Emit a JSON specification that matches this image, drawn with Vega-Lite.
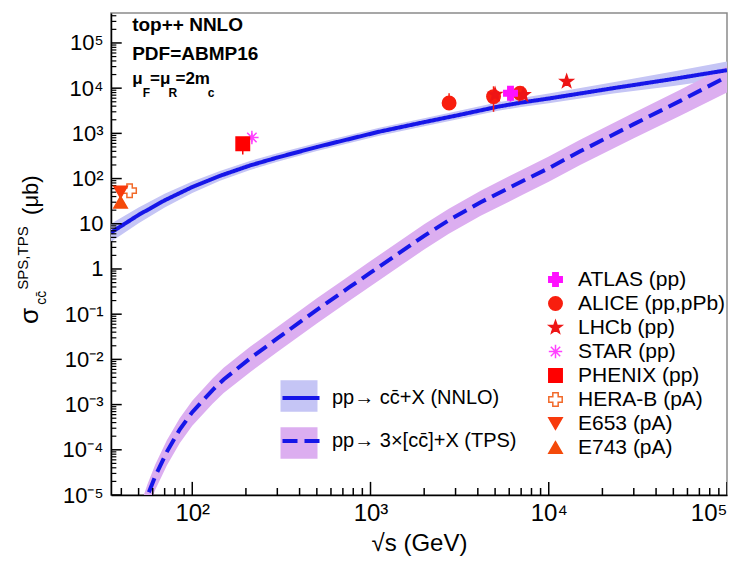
{
  "$schema": "https://vega.github.io/schema/vega-lite/v6.json",
  "width": 616,
  "height": 482,
  "autosize": {"type": "none"},
  "padding": {"left": 111, "top": 13, "right": 21, "bottom": 67},
  "config": {
    "font": "Liberation Sans",
    "view": {"stroke": "#8a8a8a", "strokeWidth": 1.5},
    "axis": {"grid": false, "zindex": 1, "labelFont": "Liberation Sans", "titleFont": "Liberation Sans", "labelColor": "#000", "titleColor": "#000"},
    "legend": {"labelFont": "Liberation Sans", "padding": 0, "offset": 0, "labelLimit": 400}
  },
  "datasets": {
    "one": [{}],
    "xmajor": [{"v": 100}, {"v": 1000}, {"v": 10000}, {"v": 100000}],
    "xminor": [{"v": 40}, {"v": 50}, {"v": 60}, {"v": 70}, {"v": 80}, {"v": 90}, {"v": 200}, {"v": 300}, {"v": 400}, {"v": 500}, {"v": 600}, {"v": 700}, {"v": 800}, {"v": 900}, {"v": 2000}, {"v": 3000}, {"v": 4000}, {"v": 5000}, {"v": 6000}, {"v": 7000}, {"v": 8000}, {"v": 9000}, {"v": 20000}, {"v": 30000}, {"v": 40000}, {"v": 50000}, {"v": 60000}, {"v": 70000}, {"v": 80000}, {"v": 90000}],
    "ymajor": [{"v": 1e-5}, {"v": 1e-4}, {"v": 1e-3}, {"v": 1e-2}, {"v": 0.1}, {"v": 1}, {"v": 10}, {"v": 100}, {"v": 1000}, {"v": 10000}, {"v": 100000}],
    "yminor": [{"v": 2e-5}, {"v": 3e-5}, {"v": 4e-5}, {"v": 5e-5}, {"v": 6e-5}, {"v": 7e-5}, {"v": 8e-5}, {"v": 9e-5}, {"v": 2e-4}, {"v": 3e-4}, {"v": 4e-4}, {"v": 5e-4}, {"v": 6e-4}, {"v": 7e-4}, {"v": 8e-4}, {"v": 9e-4}, {"v": 2e-3}, {"v": 3e-3}, {"v": 4e-3}, {"v": 5e-3}, {"v": 6e-3}, {"v": 7e-3}, {"v": 8e-3}, {"v": 9e-3}, {"v": 0.02}, {"v": 0.03}, {"v": 0.04}, {"v": 0.05}, {"v": 0.06}, {"v": 0.07}, {"v": 0.08}, {"v": 0.09}, {"v": 0.2}, {"v": 0.3}, {"v": 0.4}, {"v": 0.5}, {"v": 0.6}, {"v": 0.7}, {"v": 0.8}, {"v": 0.9}, {"v": 2}, {"v": 3}, {"v": 4}, {"v": 5}, {"v": 6}, {"v": 7}, {"v": 8}, {"v": 9}, {"v": 20}, {"v": 30}, {"v": 40}, {"v": 50}, {"v": 60}, {"v": 70}, {"v": 80}, {"v": 90}, {"v": 200}, {"v": 300}, {"v": 400}, {"v": 500}, {"v": 600}, {"v": 700}, {"v": 800}, {"v": 900}, {"v": 2000}, {"v": 3000}, {"v": 4000}, {"v": 5000}, {"v": 6000}, {"v": 7000}, {"v": 8000}, {"v": 9000}, {"v": 20000}, {"v": 30000}, {"v": 40000}, {"v": 50000}, {"v": 60000}, {"v": 70000}, {"v": 80000}, {"v": 90000}, {"v": 200000}, {"v": 300000}, {"v": 400000}],
    "bands": [
      {"band": "NNLO band", "s": 35, "lo": 4.0, "hi": 10},
      {"band": "NNLO band", "s": 50, "lo": 10.3, "hi": 23},
      {"band": "NNLO band", "s": 70, "lo": 23, "hi": 46},
      {"band": "NNLO band", "s": 100, "lo": 48, "hi": 86},
      {"band": "NNLO band", "s": 143, "lo": 89, "hi": 148},
      {"band": "NNLO band", "s": 211, "lo": 155, "hi": 245},
      {"band": "NNLO band", "s": 300, "lo": 235, "hi": 362},
      {"band": "NNLO band", "s": 500, "lo": 405, "hi": 610},
      {"band": "NNLO band", "s": 1120, "lo": 890, "hi": 1330},
      {"band": "NNLO band", "s": 2000, "lo": 1440, "hi": 2170},
      {"band": "NNLO band", "s": 3000, "lo": 2000, "hi": 3030},
      {"band": "NNLO band", "s": 5200, "lo": 3150, "hi": 4850},
      {"band": "NNLO band", "s": 7000, "lo": 3850, "hi": 6050},
      {"band": "NNLO band", "s": 10000, "lo": 4650, "hi": 7600},
      {"band": "NNLO band", "s": 23000, "lo": 7600, "hi": 13500},
      {"band": "NNLO band", "s": 50000, "lo": 11200, "hi": 23500},
      {"band": "NNLO band", "s": 100000, "lo": 16500, "hi": 39000},
      {"band": "TPS band", "s": 48, "lo": 8e-7, "hi": 3.4e-6},
      {"band": "TPS band", "s": 52, "lo": 2e-6, "hi": 7.2e-6},
      {"band": "TPS band", "s": 56, "lo": 4.7e-6, "hi": 1.7e-5},
      {"band": "TPS band", "s": 62, "lo": 1.3e-5, "hi": 4.7e-5},
      {"band": "TPS band", "s": 72, "lo": 4.5e-5, "hi": 1.62e-4},
      {"band": "TPS band", "s": 85, "lo": 1.4e-4, "hi": 5e-4},
      {"band": "TPS band", "s": 100, "lo": 3.4e-4, "hi": 1.22e-3},
      {"band": "TPS band", "s": 130, "lo": 1.05e-3, "hi": 3.8e-3},
      {"band": "TPS band", "s": 150, "lo": 1.8e-3, "hi": 6.5e-3},
      {"band": "TPS band", "s": 211, "lo": 5.2e-3, "hi": 1.9e-2},
      {"band": "TPS band", "s": 300, "lo": 1.45e-2, "hi": 5.2e-2},
      {"band": "TPS band", "s": 500, "lo": 0.062, "hi": 0.225},
      {"band": "TPS band", "s": 765, "lo": 0.2, "hi": 0.72},
      {"band": "TPS band", "s": 1000, "lo": 0.415, "hi": 1.5},
      {"band": "TPS band", "s": 2000, "lo": 2.7, "hi": 9.7},
      {"band": "TPS band", "s": 2750, "lo": 6, "hi": 21.5},
      {"band": "TPS band", "s": 4150, "lo": 15, "hi": 54},
      {"band": "TPS band", "s": 7000, "lo": 42, "hi": 153},
      {"band": "TPS band", "s": 10000, "lo": 85, "hi": 306},
      {"band": "TPS band", "s": 15000, "lo": 200, "hi": 720},
      {"band": "TPS band", "s": 30000, "lo": 780, "hi": 2850},
      {"band": "TPS band", "s": 55000, "lo": 2500, "hi": 9400},
      {"band": "TPS band", "s": 100000, "lo": 8000, "hi": 31000}
    ],
    "curves": [
      {"model": "pp→ cc̄+X (NNLO)", "s": 35, "sigma": 6.4},
      {"model": "pp→ cc̄+X (NNLO)", "s": 50, "sigma": 15.7},
      {"model": "pp→ cc̄+X (NNLO)", "s": 70, "sigma": 33},
      {"model": "pp→ cc̄+X (NNLO)", "s": 100, "sigma": 65},
      {"model": "pp→ cc̄+X (NNLO)", "s": 143, "sigma": 115},
      {"model": "pp→ cc̄+X (NNLO)", "s": 211, "sigma": 195},
      {"model": "pp→ cc̄+X (NNLO)", "s": 300, "sigma": 292},
      {"model": "pp→ cc̄+X (NNLO)", "s": 500, "sigma": 499},
      {"model": "pp→ cc̄+X (NNLO)", "s": 1120, "sigma": 1090},
      {"model": "pp→ cc̄+X (NNLO)", "s": 2000, "sigma": 1770},
      {"model": "pp→ cc̄+X (NNLO)", "s": 3000, "sigma": 2460},
      {"model": "pp→ cc̄+X (NNLO)", "s": 5200, "sigma": 3900},
      {"model": "pp→ cc̄+X (NNLO)", "s": 7000, "sigma": 4800},
      {"model": "pp→ cc̄+X (NNLO)", "s": 10000, "sigma": 5900},
      {"model": "pp→ cc̄+X (NNLO)", "s": 23000, "sigma": 10000},
      {"model": "pp→ cc̄+X (NNLO)", "s": 50000, "sigma": 16000},
      {"model": "pp→ cc̄+X (NNLO)", "s": 100000, "sigma": 25000},
      {"model": "pp→ 3×[cc̄]+X (TPS)", "s": 52, "sigma": 4e-6},
      {"model": "pp→ 3×[cc̄]+X (TPS)", "s": 56, "sigma": 9.5e-6},
      {"model": "pp→ 3×[cc̄]+X (TPS)", "s": 62, "sigma": 2.6e-5},
      {"model": "pp→ 3×[cc̄]+X (TPS)", "s": 72, "sigma": 9e-5},
      {"model": "pp→ 3×[cc̄]+X (TPS)", "s": 85, "sigma": 2.8e-4},
      {"model": "pp→ 3×[cc̄]+X (TPS)", "s": 100, "sigma": 6.8e-4},
      {"model": "pp→ 3×[cc̄]+X (TPS)", "s": 130, "sigma": 2.1e-3},
      {"model": "pp→ 3×[cc̄]+X (TPS)", "s": 150, "sigma": 3.6e-3},
      {"model": "pp→ 3×[cc̄]+X (TPS)", "s": 211, "sigma": 1.05e-2},
      {"model": "pp→ 3×[cc̄]+X (TPS)", "s": 300, "sigma": 2.9e-2},
      {"model": "pp→ 3×[cc̄]+X (TPS)", "s": 500, "sigma": 0.125},
      {"model": "pp→ 3×[cc̄]+X (TPS)", "s": 765, "sigma": 0.4},
      {"model": "pp→ 3×[cc̄]+X (TPS)", "s": 1000, "sigma": 0.83},
      {"model": "pp→ 3×[cc̄]+X (TPS)", "s": 2000, "sigma": 5.4},
      {"model": "pp→ 3×[cc̄]+X (TPS)", "s": 2750, "sigma": 12},
      {"model": "pp→ 3×[cc̄]+X (TPS)", "s": 4150, "sigma": 30},
      {"model": "pp→ 3×[cc̄]+X (TPS)", "s": 7000, "sigma": 85},
      {"model": "pp→ 3×[cc̄]+X (TPS)", "s": 10000, "sigma": 170},
      {"model": "pp→ 3×[cc̄]+X (TPS)", "s": 15000, "sigma": 400},
      {"model": "pp→ 3×[cc̄]+X (TPS)", "s": 30000, "sigma": 1600},
      {"model": "pp→ 3×[cc̄]+X (TPS)", "s": 55000, "sigma": 5300},
      {"model": "pp→ 3×[cc̄]+X (TPS)", "s": 100000, "sigma": 18000}
    ],
    "points": [
      {"exp": "ALICE (pp,pPb)", "s": 2760, "sigma": 4700, "lo": 3300, "hi": 7700},
      {"exp": "ALICE (pp,pPb)", "s": 4900, "sigma": 6500, "lo": 3000, "hi": 11000},
      {"exp": "ALICE (pp,pPb)", "s": 6900, "sigma": 7700, "lo": 6000, "hi": 9500},
      {"exp": "LHCb (pp)", "s": 5000, "sigma": 7200, "lo": 6200, "hi": 8300},
      {"exp": "LHCb (pp)", "s": 7200, "sigma": 7100, "lo": 6200, "hi": 8000},
      {"exp": "LHCb (pp)", "s": 12600, "sigma": 14000, "lo": 12500, "hi": 15500},
      {"exp": "ATLAS (pp)", "s": 6100, "sigma": 7700, "lo": 5000, "hi": 10000},
      {"exp": "STAR (pp)", "s": 216, "sigma": 810, "lo": 640, "hi": 1000},
      {"exp": "PHENIX (pp)", "s": 192, "sigma": 590, "lo": 340, "hi": 700},
      {"exp": "HERA-B (pA)", "s": 44.5, "sigma": 54, "lo": 46, "hi": 62},
      {"exp": "E653 (pA)", "s": 39.6, "sigma": 50, "lo": 42, "hi": 60},
      {"exp": "E743 (pA)", "s": 39.6, "sigma": 30, "lo": 25, "hi": 36}
    ]
  },
  "resolve": {"axis": {"x": "independent", "y": "independent"}},
  "layer": [
    {
      "data": {"name": "bands"},
      "mark": {"type": "area", "clip": true},
      "encoding": {
        "x": {"field": "s", "type": "quantitative", "scale": {"type": "log", "domain": [35, 100000], "nice": false}, "axis": null},
        "y": {"field": "lo", "type": "quantitative", "scale": {"type": "log", "domain": [1e-5, 460000], "nice": false}, "axis": null},
        "y2": {"field": "hi"},
        "color": {"field": "band", "type": "nominal",
          "scale": {"domain": ["NNLO band", "TPS band"], "range": ["#c5c5f5", "#dcaef0"]},
          "legend": {"orient": "none", "legendX": 169, "legendY": 364, "title": null, "symbolType": "M-1,-0.85L1,-0.85L1,0.85L-1,0.85Z", "symbolSize": 1370, "symbolStrokeWidth": 0, "symbolOpacity": 1, "labelFontSize": 20, "labelExpr": "''", "labelOffset": 10, "rowPadding": 12}}
      }
    },
    {
      "data": {"name": "curves"},
      "mark": {"type": "line", "clip": true, "strokeWidth": 4, "color": "#1616e8"},
      "encoding": {
        "x": {"field": "s", "type": "quantitative", "scale": {"type": "log", "domain": [35, 100000], "nice": false},
          "axis": {"orient": "bottom", "values": [100, 1000, 10000, 100000], "labelExpr": "['10²','10³','10⁴','10⁵'][round(log(datum.value)/LN10)-2]",
            "ticks": false, "domainColor": "#000", "domainWidth": 1.5, "labelFontSize": 24, "labelPadding": 6,
            "title": "√s (GeV)", "titleFontSize": 24, "titleFontWeight": "normal", "titlePadding": 6}},
        "y": {"field": "sigma", "type": "quantitative", "scale": {"type": "log", "domain": [1e-5, 460000], "nice": false},
          "axis": {"orient": "left", "values": [1e-5,1e-4,1e-3,1e-2,0.1,1,10,100,1000,10000,100000], "labelExpr": "['10⁻⁵','10⁻⁴','10⁻³','10⁻²','10⁻¹','1','10','10²','10³','10⁴','10⁵'][round(log(datum.value)/LN10)+5]",
            "ticks": false, "domainColor": "#000", "domainWidth": 1.5, "labelFontSize": 22, "labelPadding": 8, "title": null}},
        "strokeDash": {"field": "model", "type": "nominal",
          "scale": {"domain": ["pp→ cc̄+X (NNLO)", "pp→ 3×[cc̄]+X (TPS)"], "range": [[1, 0], [15, 7]]},
          "legend": {"orient": "none", "legendX": 169, "legendY": 364, "title": null, "symbolType": "stroke", "symbolSize": 1370, "symbolStrokeWidth": 4, "symbolStrokeColor": "#1616e8", "labelFontSize": 20, "labelColor": "#000", "labelOffset": 10, "rowPadding": 12}}
      }
    },
    {
      "data": {"name": "xmajor"},
      "mark": {"type": "rule", "strokeWidth": 1.5, "color": "#000", "clip": true},
      "encoding": {
        "x": {"field": "v", "type": "quantitative", "scale": {"type": "log", "domain": [35, 100000], "nice": false}, "axis": null},
        "y": {"datum": 1e-5, "type": "quantitative", "scale": {"type": "log", "domain": [1e-5, 460000], "nice": false}, "axis": null},
        "y2": {"datum": 1.95e-5}
      }
    },
    {
      "data": {"name": "xminor"},
      "mark": {"type": "rule", "strokeWidth": 1.5, "color": "#000", "clip": true},
      "encoding": {
        "x": {"field": "v", "type": "quantitative", "scale": {"type": "log", "domain": [35, 100000], "nice": false}, "axis": null},
        "y": {"datum": 1e-5, "type": "quantitative", "scale": {"type": "log", "domain": [1e-5, 460000], "nice": false}, "axis": null},
        "y2": {"datum": 1.43e-5}
      }
    },
    {
      "data": {"name": "ymajor"},
      "mark": {"type": "rule", "strokeWidth": 1.5, "color": "#000", "clip": true},
      "encoding": {
        "y": {"field": "v", "type": "quantitative", "scale": {"type": "log", "domain": [1e-5, 460000], "nice": false}, "axis": null},
        "x": {"datum": 35, "type": "quantitative", "scale": {"type": "log", "domain": [35, 100000], "nice": false}, "axis": null},
        "x2": {"datum": 40.2}
      }
    },
    {
      "data": {"name": "yminor"},
      "mark": {"type": "rule", "strokeWidth": 1.2, "color": "#000", "clip": true},
      "encoding": {
        "y": {"field": "v", "type": "quantitative", "scale": {"type": "log", "domain": [1e-5, 460000], "nice": false}, "axis": null},
        "x": {"datum": 35, "type": "quantitative", "scale": {"type": "log", "domain": [35, 100000], "nice": false}, "axis": null},
        "x2": {"datum": 37.5}
      }
    },
    {
      "data": {"name": "points"},
      "mark": {"type": "rule", "strokeWidth": 1.5},
      "encoding": {
        "x": {"field": "s", "type": "quantitative", "scale": {"type": "log", "domain": [35, 100000], "nice": false}, "axis": null},
        "y": {"field": "lo", "type": "quantitative", "scale": {"type": "log", "domain": [1e-5, 460000], "nice": false}, "axis": null},
        "y2": {"field": "hi"},
        "stroke": {"field": "exp", "type": "nominal",
          "scale": {"domain": ["ATLAS (pp)", "ALICE (pp,pPb)", "LHCb (pp)", "STAR (pp)", "PHENIX (pp)", "HERA-B (pA)", "E653 (pA)", "E743 (pA)"],
            "range": ["#ff10ff", "#f81e0e", "#ee1515", "#ff40ff", "#ff0000", "#f26a2a", "#f83a0c", "#f44a0a"]}}
      }
    },
    {
      "data": {"name": "points"},
      "mark": {"type": "point", "strokeWidth": 1.5, "opacity": 1, "size": 180},
      "encoding": {
        "x": {"field": "s", "type": "quantitative", "scale": {"type": "log", "domain": [35, 100000], "nice": false}, "axis": null},
        "y": {"field": "sigma", "type": "quantitative", "scale": {"type": "log", "domain": [1e-5, 460000], "nice": false}, "axis": null},
        "shape": {"field": "exp", "type": "nominal",
          "scale": {"domain": ["ATLAS (pp)", "ALICE (pp,pPb)", "LHCb (pp)", "STAR (pp)", "PHENIX (pp)", "HERA-B (pA)", "E653 (pA)", "E743 (pA)"],
            "range": ["cross", "circle", "M0,-1L0.235,-0.324L0.951,-0.309L0.38,0.124L0.588,0.809L0,0.4L-0.588,0.809L-0.38,0.124L-0.951,-0.309L-0.235,-0.324Z", "M0,-1L0,1M-1,0L1,0M-0.7,-0.7L0.7,0.7M-0.7,0.7L0.7,-0.7", "square", "cross", "triangle-down", "triangle-up"]},
          "legend": {"orient": "none", "legendX": 434, "legendY": 256, "title": null, "symbolSize": 180, "symbolStrokeWidth": 1.5, "labelFontSize": 21, "labelColor": "#000", "labelOffset": 12, "rowPadding": 2}},
        "fill": {"field": "exp", "type": "nominal",
          "legend": {"orient": "none", "legendX": 434, "legendY": 256, "title": null, "symbolSize": 180, "symbolStrokeWidth": 1.5, "labelFontSize": 21, "labelColor": "#000", "labelOffset": 12, "rowPadding": 2},
          "scale": {"domain": ["ATLAS (pp)", "ALICE (pp,pPb)", "LHCb (pp)", "STAR (pp)", "PHENIX (pp)", "HERA-B (pA)", "E653 (pA)", "E743 (pA)"],
            "range": ["#ff10ff", "#f81e0e", "#ee1515", "transparent", "#ff0000", "#ffffff", "#f83a0c", "#f44a0a"]}},
        "stroke": {"field": "exp", "type": "nominal",
          "legend": {"orient": "none", "legendX": 434, "legendY": 256, "title": null, "symbolSize": 180, "symbolStrokeWidth": 1.5, "labelFontSize": 21, "labelColor": "#000", "labelOffset": 12, "rowPadding": 2},
          "scale": {"domain": ["ATLAS (pp)", "ALICE (pp,pPb)", "LHCb (pp)", "STAR (pp)", "PHENIX (pp)", "HERA-B (pA)", "E653 (pA)", "E743 (pA)"],
            "range": ["#ff10ff", "#f81e0e", "#ee1515", "#ff40ff", "#ff0000", "#f26a2a", "#f83a0c", "#f44a0a"]}}
      }
    },
    {
      "data": {"name": "one"},
      "mark": {"type": "text", "text": "top++ NNLO", "fontSize": 19, "fontWeight": "bold", "align": "left", "baseline": "alphabetic"},
      "encoding": {"x": {"datum": 46, "type": "quantitative", "scale": {"type": "log", "domain": [35, 100000], "nice": false}, "axis": null}, "y": {"datum": 184000, "type": "quantitative", "scale": {"type": "log", "domain": [1e-5, 460000], "nice": false}, "axis": null}}
    },
    {
      "data": {"name": "one"},
      "mark": {"type": "text", "text": "PDF=ABMP16", "fontSize": 19, "fontWeight": "bold", "align": "left", "baseline": "alphabetic"},
      "encoding": {"x": {"datum": 46, "type": "quantitative", "scale": {"type": "log", "domain": [35, 100000], "nice": false}, "axis": null}, "y": {"datum": 42000, "type": "quantitative", "scale": {"type": "log", "domain": [1e-5, 460000], "nice": false}, "axis": null}}
    },
    {
      "data": {"name": "one"},
      "mark": {"type": "text", "text": "μ", "fontSize": 17, "fontWeight": "bold", "align": "left", "baseline": "alphabetic"},
      "encoding": {"x": {"datum": 46, "type": "quantitative", "scale": {"type": "log", "domain": [35, 100000], "nice": false}, "axis": null}, "y": {"datum": 12400, "type": "quantitative", "scale": {"type": "log", "domain": [1e-5, 460000], "nice": false}, "axis": null}}
    },
    {
      "data": {"name": "one"},
      "mark": {"type": "text", "text": "F", "fontSize": 12, "fontWeight": "bold", "align": "left", "baseline": "alphabetic"},
      "encoding": {"x": {"datum": 52.7, "type": "quantitative", "scale": {"type": "log", "domain": [35, 100000], "nice": false}, "axis": null}, "y": {"datum": 6400, "type": "quantitative", "scale": {"type": "log", "domain": [1e-5, 460000], "nice": false}, "axis": null}}
    },
    {
      "data": {"name": "one"},
      "mark": {"type": "text", "text": "=μ", "fontSize": 17, "fontWeight": "bold", "align": "left", "baseline": "alphabetic"},
      "encoding": {"x": {"datum": 58, "type": "quantitative", "scale": {"type": "log", "domain": [35, 100000], "nice": false}, "axis": null}, "y": {"datum": 12400, "type": "quantitative", "scale": {"type": "log", "domain": [1e-5, 460000], "nice": false}, "axis": null}}
    },
    {
      "data": {"name": "one"},
      "mark": {"type": "text", "text": "R", "fontSize": 12, "fontWeight": "bold", "align": "left", "baseline": "alphabetic"},
      "encoding": {"x": {"datum": 73.5, "type": "quantitative", "scale": {"type": "log", "domain": [35, 100000], "nice": false}, "axis": null}, "y": {"datum": 6400, "type": "quantitative", "scale": {"type": "log", "domain": [1e-5, 460000], "nice": false}, "axis": null}}
    },
    {
      "data": {"name": "one"},
      "mark": {"type": "text", "text": "=2m", "fontSize": 17, "fontWeight": "bold", "align": "left", "baseline": "alphabetic"},
      "encoding": {"x": {"datum": 80.5, "type": "quantitative", "scale": {"type": "log", "domain": [35, 100000], "nice": false}, "axis": null}, "y": {"datum": 12400, "type": "quantitative", "scale": {"type": "log", "domain": [1e-5, 460000], "nice": false}, "axis": null}}
    },
    {
      "data": {"name": "one"},
      "mark": {"type": "text", "text": "c", "fontSize": 12, "fontWeight": "bold", "align": "left", "baseline": "alphabetic"},
      "encoding": {"x": {"datum": 122, "type": "quantitative", "scale": {"type": "log", "domain": [35, 100000], "nice": false}, "axis": null}, "y": {"datum": 6400, "type": "quantitative", "scale": {"type": "log", "domain": [1e-5, 460000], "nice": false}, "axis": null}}
    },
    {
      "data": {"name": "one"},
      "mark": {"type": "text", "text": "σ", "fontSize": 26, "angle": 270, "align": "center", "baseline": "middle"},
      "encoding": {"x": {"datum": 12.3, "type": "quantitative", "scale": {"type": "log", "domain": [35, 100000], "nice": false}, "axis": null}, "y": {"datum": 0.0912, "type": "quantitative", "scale": {"type": "log", "domain": [1e-5, 460000], "nice": false}, "axis": null}}
    },
    {
      "data": {"name": "one"},
      "mark": {"type": "text", "text": "SPS,TPS", "fontSize": 15, "angle": 270, "align": "center", "baseline": "middle"},
      "encoding": {"x": {"datum": 11.2, "type": "quantitative", "scale": {"type": "log", "domain": [35, 100000], "nice": false}, "axis": null}, "y": {"datum": 1.75, "type": "quantitative", "scale": {"type": "log", "domain": [1e-5, 460000], "nice": false}, "axis": null}}
    },
    {
      "data": {"name": "one"},
      "mark": {"type": "text", "text": "cc̄", "fontSize": 14, "angle": 270, "align": "center", "baseline": "middle"},
      "encoding": {"x": {"datum": 14.4, "type": "quantitative", "scale": {"type": "log", "domain": [35, 100000], "nice": false}, "axis": null}, "y": {"datum": 0.23, "type": "quantitative", "scale": {"type": "log", "domain": [1e-5, 460000], "nice": false}, "axis": null}}
    },
    {
      "data": {"name": "one"},
      "mark": {"type": "text", "text": "(μb)", "fontSize": 22, "angle": 270, "align": "center", "baseline": "middle"},
      "encoding": {"x": {"datum": 12.45, "type": "quantitative", "scale": {"type": "log", "domain": [35, 100000], "nice": false}, "axis": null}, "y": {"datum": 43, "type": "quantitative", "scale": {"type": "log", "domain": [1e-5, 460000], "nice": false}, "axis": null}}
    }
  ]
}
